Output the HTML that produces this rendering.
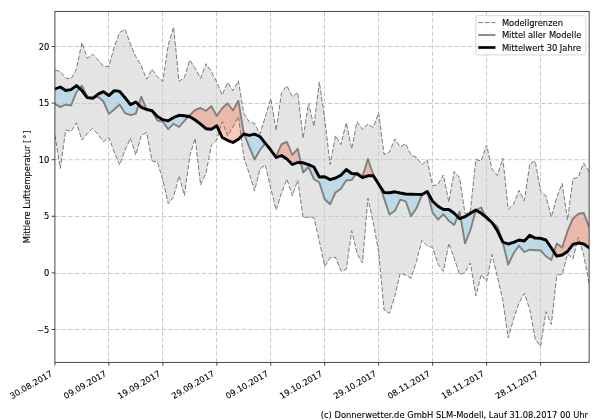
<!DOCTYPE html>
<html><head><meta charset="utf-8"><title>Temperatur</title>
<style>html,body{margin:0;padding:0;background:#fff;}svg{display:block;will-change:transform;}text{font-family:"DejaVu Sans","Liberation Sans",sans-serif;fill:#000;stroke:#000;stroke-width:0.1px;}</style></head><body>
<svg width="600" height="420" viewBox="0 0 600 420">
<rect x="0" y="0" width="600" height="420" fill="#fff"/>
<defs>
<clipPath id="plot"><rect x="54.9" y="11.4" width="534.23" height="351.0"/></clipPath>
<clipPath id="above"><polygon points="54.90,89.00 60.30,87.00 65.69,90.50 71.09,89.60 76.49,85.60 81.88,90.50 87.28,97.60 92.67,98.30 98.07,94.10 103.47,91.60 108.86,95.60 114.26,90.60 119.66,91.40 125.05,97.70 130.45,104.60 135.84,102.00 141.24,107.30 146.64,109.50 152.03,110.70 157.43,116.50 162.83,119.70 168.22,120.80 173.62,117.50 179.01,115.30 184.41,115.80 189.81,116.70 195.20,120.00 200.60,124.20 206.00,128.70 211.39,129.20 216.79,125.80 222.19,137.50 227.58,140.30 232.98,142.50 238.37,139.20 243.77,134.00 249.17,135.30 254.56,134.20 259.96,136.50 265.36,143.30 270.75,150.00 276.15,157.50 281.54,155.50 286.94,159.00 292.34,164.50 297.73,162.50 303.13,162.80 308.53,164.60 313.92,167.00 319.32,177.00 324.71,176.70 330.11,179.60 335.51,178.00 340.90,175.20 346.30,169.50 351.70,173.50 357.09,174.00 362.49,177.50 367.89,175.80 373.28,175.80 378.68,184.20 384.07,192.50 389.47,192.80 394.87,191.80 400.26,193.00 405.66,194.00 411.06,194.20 416.45,194.40 421.85,194.50 427.24,191.50 432.64,201.30 438.04,206.30 443.43,209.50 448.83,209.50 454.23,213.30 459.62,218.70 465.02,216.70 470.42,213.30 475.81,210.00 481.21,213.30 486.60,217.50 492.00,222.50 497.40,230.80 502.79,242.00 508.19,244.00 513.59,242.30 518.98,240.00 524.38,241.00 529.77,235.20 535.17,238.10 540.57,238.30 545.96,240.00 551.36,248.00 556.76,256.20 562.15,255.00 567.55,251.50 572.94,244.30 578.34,243.00 583.74,244.00 589.13,247.70 589.13,0 54.9,0"/></clipPath>
<clipPath id="below"><polygon points="54.90,89.00 60.30,87.00 65.69,90.50 71.09,89.60 76.49,85.60 81.88,90.50 87.28,97.60 92.67,98.30 98.07,94.10 103.47,91.60 108.86,95.60 114.26,90.60 119.66,91.40 125.05,97.70 130.45,104.60 135.84,102.00 141.24,107.30 146.64,109.50 152.03,110.70 157.43,116.50 162.83,119.70 168.22,120.80 173.62,117.50 179.01,115.30 184.41,115.80 189.81,116.70 195.20,120.00 200.60,124.20 206.00,128.70 211.39,129.20 216.79,125.80 222.19,137.50 227.58,140.30 232.98,142.50 238.37,139.20 243.77,134.00 249.17,135.30 254.56,134.20 259.96,136.50 265.36,143.30 270.75,150.00 276.15,157.50 281.54,155.50 286.94,159.00 292.34,164.50 297.73,162.50 303.13,162.80 308.53,164.60 313.92,167.00 319.32,177.00 324.71,176.70 330.11,179.60 335.51,178.00 340.90,175.20 346.30,169.50 351.70,173.50 357.09,174.00 362.49,177.50 367.89,175.80 373.28,175.80 378.68,184.20 384.07,192.50 389.47,192.80 394.87,191.80 400.26,193.00 405.66,194.00 411.06,194.20 416.45,194.40 421.85,194.50 427.24,191.50 432.64,201.30 438.04,206.30 443.43,209.50 448.83,209.50 454.23,213.30 459.62,218.70 465.02,216.70 470.42,213.30 475.81,210.00 481.21,213.30 486.60,217.50 492.00,222.50 497.40,230.80 502.79,242.00 508.19,244.00 513.59,242.30 518.98,240.00 524.38,241.00 529.77,235.20 535.17,238.10 540.57,238.30 545.96,240.00 551.36,248.00 556.76,256.20 562.15,255.00 567.55,251.50 572.94,244.30 578.34,243.00 583.74,244.00 589.13,247.70 589.13,420 54.9,420"/></clipPath>
</defs>
<g clip-path="url(#plot)">
<polygon points="54.90,70.00 60.30,71.70 65.69,78.00 71.09,78.80 76.49,69.00 81.88,42.50 87.28,58.30 92.67,54.20 98.07,60.00 103.47,66.30 108.86,66.70 114.26,46.70 119.66,32.50 125.05,29.20 130.45,44.20 135.84,56.70 141.24,65.80 146.64,79.20 152.03,69.20 157.43,76.70 162.83,81.30 168.22,45.00 173.62,27.00 179.01,81.30 184.41,77.50 189.81,60.00 195.20,68.30 200.60,78.30 206.00,63.70 211.39,71.70 216.79,82.00 222.19,95.00 227.58,82.50 232.98,90.80 238.37,80.80 243.77,113.30 249.17,121.70 254.56,123.50 259.96,134.00 265.36,116.70 270.75,98.50 276.15,130.50 281.54,92.50 286.94,85.80 292.34,96.70 297.73,92.50 303.13,138.30 308.53,103.00 313.92,126.50 319.32,81.80 324.71,119.00 330.11,164.50 335.51,135.60 340.90,144.50 346.30,122.50 351.70,149.00 357.09,121.70 362.49,129.50 367.89,124.00 373.28,127.50 378.68,112.80 384.07,154.50 389.47,152.00 394.87,139.00 400.26,147.00 405.66,143.70 411.06,155.00 416.45,157.20 421.85,164.70 427.24,160.00 432.64,185.80 438.04,184.20 443.43,175.00 448.83,202.00 454.23,171.50 459.62,177.80 465.02,214.00 470.42,211.00 475.81,159.50 481.21,161.00 486.60,145.00 492.00,169.20 497.40,175.50 502.79,158.00 508.19,209.20 513.59,204.20 518.98,190.30 524.38,200.80 529.77,164.00 535.17,161.00 540.57,191.00 545.96,196.00 551.36,217.00 556.76,197.00 562.15,183.50 567.55,220.00 572.94,179.00 578.34,177.00 583.74,163.00 589.13,171.80 589.13,283.30 583.74,255.50 578.34,237.00 572.94,259.00 567.55,254.00 562.15,274.50 556.76,275.00 551.36,324.50 545.96,311.70 540.57,346.30 535.17,339.20 529.77,309.50 524.38,293.30 518.98,303.00 513.59,319.00 508.19,338.00 502.79,300.00 497.40,276.70 492.00,254.50 486.60,281.70 481.21,274.50 475.81,295.80 470.42,263.00 465.02,272.50 459.62,274.70 454.23,258.30 448.83,243.30 443.43,271.30 438.04,264.20 432.64,247.50 427.24,245.80 421.85,240.30 416.45,261.50 411.06,278.20 405.66,275.20 400.26,273.20 394.87,296.00 389.47,313.30 384.07,310.00 378.68,252.00 373.28,222.50 367.89,198.30 362.49,263.00 357.09,253.50 351.70,230.80 346.30,269.20 340.90,271.00 335.51,257.30 330.11,257.80 324.71,266.30 319.32,241.00 313.92,217.50 308.53,217.20 303.13,217.50 297.73,180.20 292.34,195.80 286.94,179.20 281.54,193.00 276.15,210.00 270.75,188.30 265.36,165.00 259.96,169.00 254.56,190.80 249.17,173.50 243.77,157.00 238.37,116.50 232.98,126.70 227.58,135.80 222.19,121.70 216.79,140.00 211.39,145.00 206.00,173.00 200.60,185.00 195.20,138.30 189.81,155.50 184.41,195.50 179.01,176.00 173.62,197.00 168.22,203.50 162.83,180.00 157.43,162.00 152.03,161.00 146.64,132.50 141.24,135.50 135.84,155.00 130.45,138.30 125.05,150.00 119.66,165.00 114.26,152.00 108.86,137.50 103.47,141.70 98.07,134.50 92.67,128.50 87.28,133.50 81.88,140.00 76.49,122.80 71.09,131.50 65.69,130.00 60.30,168.50 54.90,135.00" fill="#e4e4e4"/>
<g clip-path="url(#above)"><polygon points="54.90,103.70 60.30,107.10 65.69,104.50 71.09,105.50 76.49,92.00 81.88,85.70 87.28,97.00 92.67,98.20 98.07,96.80 103.47,101.50 108.86,113.80 114.26,109.50 119.66,104.50 125.05,113.20 130.45,115.20 135.84,113.60 141.24,96.70 146.64,109.50 152.03,111.00 157.43,120.60 162.83,121.70 168.22,129.20 173.62,123.70 179.01,127.00 184.41,120.80 189.81,115.00 195.20,110.00 200.60,108.00 206.00,110.80 211.39,106.30 216.79,116.00 222.19,108.30 227.58,103.30 232.98,110.50 238.37,100.80 243.77,133.00 249.17,146.70 254.56,159.50 259.96,150.00 265.36,143.00 270.75,149.50 276.15,156.50 281.54,144.20 286.94,142.00 292.34,155.00 297.73,148.70 303.13,172.50 308.53,167.00 313.92,179.00 319.32,182.50 324.71,199.20 330.11,204.20 335.51,192.50 340.90,188.70 346.30,180.30 351.70,180.00 357.09,172.50 362.49,176.50 367.89,159.00 373.28,174.50 378.68,183.30 384.07,198.30 389.47,214.50 394.87,210.80 400.26,199.70 405.66,201.30 411.06,216.30 416.45,208.30 421.85,195.30 427.24,192.00 432.64,212.50 438.04,219.70 443.43,214.20 448.83,220.80 454.23,225.00 459.62,211.70 465.02,243.30 470.42,230.00 475.81,210.00 481.21,207.50 486.60,219.20 492.00,222.50 497.40,226.50 502.79,242.00 508.19,264.70 513.59,253.30 518.98,245.80 524.38,252.00 529.77,249.70 535.17,250.30 540.57,250.30 545.96,256.30 551.36,260.00 556.76,243.50 562.15,247.50 567.55,231.00 572.94,218.50 578.34,213.70 583.74,213.00 589.13,227.00 589.13,247.70 583.74,244.00 578.34,243.00 572.94,244.30 567.55,251.50 562.15,255.00 556.76,256.20 551.36,248.00 545.96,240.00 540.57,238.30 535.17,238.10 529.77,235.20 524.38,241.00 518.98,240.00 513.59,242.30 508.19,244.00 502.79,242.00 497.40,230.80 492.00,222.50 486.60,217.50 481.21,213.30 475.81,210.00 470.42,213.30 465.02,216.70 459.62,218.70 454.23,213.30 448.83,209.50 443.43,209.50 438.04,206.30 432.64,201.30 427.24,191.50 421.85,194.50 416.45,194.40 411.06,194.20 405.66,194.00 400.26,193.00 394.87,191.80 389.47,192.80 384.07,192.50 378.68,184.20 373.28,175.80 367.89,175.80 362.49,177.50 357.09,174.00 351.70,173.50 346.30,169.50 340.90,175.20 335.51,178.00 330.11,179.60 324.71,176.70 319.32,177.00 313.92,167.00 308.53,164.60 303.13,162.80 297.73,162.50 292.34,164.50 286.94,159.00 281.54,155.50 276.15,157.50 270.75,150.00 265.36,143.30 259.96,136.50 254.56,134.20 249.17,135.30 243.77,134.00 238.37,139.20 232.98,142.50 227.58,140.30 222.19,137.50 216.79,125.80 211.39,129.20 206.00,128.70 200.60,124.20 195.20,120.00 189.81,116.70 184.41,115.80 179.01,115.30 173.62,117.50 168.22,120.80 162.83,119.70 157.43,116.50 152.03,110.70 146.64,109.50 141.24,107.30 135.84,102.00 130.45,104.60 125.05,97.70 119.66,91.40 114.26,90.60 108.86,95.60 103.47,91.60 98.07,94.10 92.67,98.30 87.28,97.60 81.88,90.50 76.49,85.60 71.09,89.60 65.69,90.50 60.30,87.00 54.90,89.00" fill="#f57d5f" fill-opacity="0.42"/></g>
<g clip-path="url(#below)"><polygon points="54.90,103.70 60.30,107.10 65.69,104.50 71.09,105.50 76.49,92.00 81.88,85.70 87.28,97.00 92.67,98.20 98.07,96.80 103.47,101.50 108.86,113.80 114.26,109.50 119.66,104.50 125.05,113.20 130.45,115.20 135.84,113.60 141.24,96.70 146.64,109.50 152.03,111.00 157.43,120.60 162.83,121.70 168.22,129.20 173.62,123.70 179.01,127.00 184.41,120.80 189.81,115.00 195.20,110.00 200.60,108.00 206.00,110.80 211.39,106.30 216.79,116.00 222.19,108.30 227.58,103.30 232.98,110.50 238.37,100.80 243.77,133.00 249.17,146.70 254.56,159.50 259.96,150.00 265.36,143.00 270.75,149.50 276.15,156.50 281.54,144.20 286.94,142.00 292.34,155.00 297.73,148.70 303.13,172.50 308.53,167.00 313.92,179.00 319.32,182.50 324.71,199.20 330.11,204.20 335.51,192.50 340.90,188.70 346.30,180.30 351.70,180.00 357.09,172.50 362.49,176.50 367.89,159.00 373.28,174.50 378.68,183.30 384.07,198.30 389.47,214.50 394.87,210.80 400.26,199.70 405.66,201.30 411.06,216.30 416.45,208.30 421.85,195.30 427.24,192.00 432.64,212.50 438.04,219.70 443.43,214.20 448.83,220.80 454.23,225.00 459.62,211.70 465.02,243.30 470.42,230.00 475.81,210.00 481.21,207.50 486.60,219.20 492.00,222.50 497.40,226.50 502.79,242.00 508.19,264.70 513.59,253.30 518.98,245.80 524.38,252.00 529.77,249.70 535.17,250.30 540.57,250.30 545.96,256.30 551.36,260.00 556.76,243.50 562.15,247.50 567.55,231.00 572.94,218.50 578.34,213.70 583.74,213.00 589.13,227.00 589.13,247.70 583.74,244.00 578.34,243.00 572.94,244.30 567.55,251.50 562.15,255.00 556.76,256.20 551.36,248.00 545.96,240.00 540.57,238.30 535.17,238.10 529.77,235.20 524.38,241.00 518.98,240.00 513.59,242.30 508.19,244.00 502.79,242.00 497.40,230.80 492.00,222.50 486.60,217.50 481.21,213.30 475.81,210.00 470.42,213.30 465.02,216.70 459.62,218.70 454.23,213.30 448.83,209.50 443.43,209.50 438.04,206.30 432.64,201.30 427.24,191.50 421.85,194.50 416.45,194.40 411.06,194.20 405.66,194.00 400.26,193.00 394.87,191.80 389.47,192.80 384.07,192.50 378.68,184.20 373.28,175.80 367.89,175.80 362.49,177.50 357.09,174.00 351.70,173.50 346.30,169.50 340.90,175.20 335.51,178.00 330.11,179.60 324.71,176.70 319.32,177.00 313.92,167.00 308.53,164.60 303.13,162.80 297.73,162.50 292.34,164.50 286.94,159.00 281.54,155.50 276.15,157.50 270.75,150.00 265.36,143.30 259.96,136.50 254.56,134.20 249.17,135.30 243.77,134.00 238.37,139.20 232.98,142.50 227.58,140.30 222.19,137.50 216.79,125.80 211.39,129.20 206.00,128.70 200.60,124.20 195.20,120.00 189.81,116.70 184.41,115.80 179.01,115.30 173.62,117.50 168.22,120.80 162.83,119.70 157.43,116.50 152.03,110.70 146.64,109.50 141.24,107.30 135.84,102.00 130.45,104.60 125.05,97.70 119.66,91.40 114.26,90.60 108.86,95.60 103.47,91.60 98.07,94.10 92.67,98.30 87.28,97.60 81.88,90.50 76.49,85.60 71.09,89.60 65.69,90.50 60.30,87.00 54.90,89.00" fill="#87ceeb" fill-opacity="0.42"/></g>
<path d="M108.50 362.4V11.4M162.50 362.4V11.4M216.50 362.4V11.4M270.50 362.4V11.4M324.50 362.4V11.4M378.50 362.4V11.4M432.50 362.4V11.4M486.50 362.4V11.4M540.50 362.4V11.4M54.9 329.50H589.13M54.9 273.50H589.13M54.9 216.50H589.13M54.9 159.70H589.13M54.9 103.50H589.13M54.9 46.50H589.13" stroke="#cacaca" stroke-width="1.0" stroke-dasharray="4.5 2.16" fill="none"/>
<polyline points="54.90,70.00 60.30,71.70 65.69,78.00 71.09,78.80 76.49,69.00 81.88,42.50 87.28,58.30 92.67,54.20 98.07,60.00 103.47,66.30 108.86,66.70 114.26,46.70 119.66,32.50 125.05,29.20 130.45,44.20 135.84,56.70 141.24,65.80 146.64,79.20 152.03,69.20 157.43,76.70 162.83,81.30 168.22,45.00 173.62,27.00 179.01,81.30 184.41,77.50 189.81,60.00 195.20,68.30 200.60,78.30 206.00,63.70 211.39,71.70 216.79,82.00 222.19,95.00 227.58,82.50 232.98,90.80 238.37,80.80 243.77,113.30 249.17,121.70 254.56,123.50 259.96,134.00 265.36,116.70 270.75,98.50 276.15,130.50 281.54,92.50 286.94,85.80 292.34,96.70 297.73,92.50 303.13,138.30 308.53,103.00 313.92,126.50 319.32,81.80 324.71,119.00 330.11,164.50 335.51,135.60 340.90,144.50 346.30,122.50 351.70,149.00 357.09,121.70 362.49,129.50 367.89,124.00 373.28,127.50 378.68,112.80 384.07,154.50 389.47,152.00 394.87,139.00 400.26,147.00 405.66,143.70 411.06,155.00 416.45,157.20 421.85,164.70 427.24,160.00 432.64,185.80 438.04,184.20 443.43,175.00 448.83,202.00 454.23,171.50 459.62,177.80 465.02,214.00 470.42,211.00 475.81,159.50 481.21,161.00 486.60,145.00 492.00,169.20 497.40,175.50 502.79,158.00 508.19,209.20 513.59,204.20 518.98,190.30 524.38,200.80 529.77,164.00 535.17,161.00 540.57,191.00 545.96,196.00 551.36,217.00 556.76,197.00 562.15,183.50 567.55,220.00 572.94,179.00 578.34,177.00 583.74,163.00 589.13,171.80" fill="none" stroke="#7a7a7a" stroke-width="1.0" stroke-dasharray="4.7 1.9"/>
<polyline points="54.90,135.00 60.30,168.50 65.69,130.00 71.09,131.50 76.49,122.80 81.88,140.00 87.28,133.50 92.67,128.50 98.07,134.50 103.47,141.70 108.86,137.50 114.26,152.00 119.66,165.00 125.05,150.00 130.45,138.30 135.84,155.00 141.24,135.50 146.64,132.50 152.03,161.00 157.43,162.00 162.83,180.00 168.22,203.50 173.62,197.00 179.01,176.00 184.41,195.50 189.81,155.50 195.20,138.30 200.60,185.00 206.00,173.00 211.39,145.00 216.79,140.00 222.19,121.70 227.58,135.80 232.98,126.70 238.37,116.50 243.77,157.00 249.17,173.50 254.56,190.80 259.96,169.00 265.36,165.00 270.75,188.30 276.15,210.00 281.54,193.00 286.94,179.20 292.34,195.80 297.73,180.20 303.13,217.50 308.53,217.20 313.92,217.50 319.32,241.00 324.71,266.30 330.11,257.80 335.51,257.30 340.90,271.00 346.30,269.20 351.70,230.80 357.09,253.50 362.49,263.00 367.89,198.30 373.28,222.50 378.68,252.00 384.07,310.00 389.47,313.30 394.87,296.00 400.26,273.20 405.66,275.20 411.06,278.20 416.45,261.50 421.85,240.30 427.24,245.80 432.64,247.50 438.04,264.20 443.43,271.30 448.83,243.30 454.23,258.30 459.62,274.70 465.02,272.50 470.42,263.00 475.81,295.80 481.21,274.50 486.60,281.70 492.00,254.50 497.40,276.70 502.79,300.00 508.19,338.00 513.59,319.00 518.98,303.00 524.38,293.30 529.77,309.50 535.17,339.20 540.57,346.30 545.96,311.70 551.36,324.50 556.76,275.00 562.15,274.50 567.55,254.00 572.94,259.00 578.34,237.00 583.74,255.50 589.13,283.30" fill="none" stroke="#7a7a7a" stroke-width="1.0" stroke-dasharray="4.7 1.9"/>
<polyline points="54.90,103.70 60.30,107.10 65.69,104.50 71.09,105.50 76.49,92.00 81.88,85.70 87.28,97.00 92.67,98.20 98.07,96.80 103.47,101.50 108.86,113.80 114.26,109.50 119.66,104.50 125.05,113.20 130.45,115.20 135.84,113.60 141.24,96.70 146.64,109.50 152.03,111.00 157.43,120.60 162.83,121.70 168.22,129.20 173.62,123.70 179.01,127.00 184.41,120.80 189.81,115.00 195.20,110.00 200.60,108.00 206.00,110.80 211.39,106.30 216.79,116.00 222.19,108.30 227.58,103.30 232.98,110.50 238.37,100.80 243.77,133.00 249.17,146.70 254.56,159.50 259.96,150.00 265.36,143.00 270.75,149.50 276.15,156.50 281.54,144.20 286.94,142.00 292.34,155.00 297.73,148.70 303.13,172.50 308.53,167.00 313.92,179.00 319.32,182.50 324.71,199.20 330.11,204.20 335.51,192.50 340.90,188.70 346.30,180.30 351.70,180.00 357.09,172.50 362.49,176.50 367.89,159.00 373.28,174.50 378.68,183.30 384.07,198.30 389.47,214.50 394.87,210.80 400.26,199.70 405.66,201.30 411.06,216.30 416.45,208.30 421.85,195.30 427.24,192.00 432.64,212.50 438.04,219.70 443.43,214.20 448.83,220.80 454.23,225.00 459.62,211.70 465.02,243.30 470.42,230.00 475.81,210.00 481.21,207.50 486.60,219.20 492.00,222.50 497.40,226.50 502.79,242.00 508.19,264.70 513.59,253.30 518.98,245.80 524.38,252.00 529.77,249.70 535.17,250.30 540.57,250.30 545.96,256.30 551.36,260.00 556.76,243.50 562.15,247.50 567.55,231.00 572.94,218.50 578.34,213.70 583.74,213.00 589.13,227.00" fill="none" stroke="#808080" stroke-width="1.9" stroke-linejoin="round" stroke-linecap="square"/>
<polyline points="54.90,89.00 60.30,87.00 65.69,90.50 71.09,89.60 76.49,85.60 81.88,90.50 87.28,97.60 92.67,98.30 98.07,94.10 103.47,91.60 108.86,95.60 114.26,90.60 119.66,91.40 125.05,97.70 130.45,104.60 135.84,102.00 141.24,107.30 146.64,109.50 152.03,110.70 157.43,116.50 162.83,119.70 168.22,120.80 173.62,117.50 179.01,115.30 184.41,115.80 189.81,116.70 195.20,120.00 200.60,124.20 206.00,128.70 211.39,129.20 216.79,125.80 222.19,137.50 227.58,140.30 232.98,142.50 238.37,139.20 243.77,134.00 249.17,135.30 254.56,134.20 259.96,136.50 265.36,143.30 270.75,150.00 276.15,157.50 281.54,155.50 286.94,159.00 292.34,164.50 297.73,162.50 303.13,162.80 308.53,164.60 313.92,167.00 319.32,177.00 324.71,176.70 330.11,179.60 335.51,178.00 340.90,175.20 346.30,169.50 351.70,173.50 357.09,174.00 362.49,177.50 367.89,175.80 373.28,175.80 378.68,184.20 384.07,192.50 389.47,192.80 394.87,191.80 400.26,193.00 405.66,194.00 411.06,194.20 416.45,194.40 421.85,194.50 427.24,191.50 432.64,201.30 438.04,206.30 443.43,209.50 448.83,209.50 454.23,213.30 459.62,218.70 465.02,216.70 470.42,213.30 475.81,210.00 481.21,213.30 486.60,217.50 492.00,222.50 497.40,230.80 502.79,242.00 508.19,244.00 513.59,242.30 518.98,240.00 524.38,241.00 529.77,235.20 535.17,238.10 540.57,238.30 545.96,240.00 551.36,248.00 556.76,256.20 562.15,255.00 567.55,251.50 572.94,244.30 578.34,243.00 583.74,244.00 589.13,247.70" fill="none" stroke="#000000" stroke-width="2.9" stroke-linejoin="round" stroke-linecap="square"/>
</g>
<rect x="54.9" y="11.4" width="534.23" height="351.0" fill="none" stroke="#333" stroke-width="0.9"/>
<path d="M54.90 362.4v3.3M108.86 362.4v3.3M162.83 362.4v3.3M216.79 362.4v3.3M270.75 362.4v3.3M324.71 362.4v3.3M378.68 362.4v3.3M432.64 362.4v3.3M486.60 362.4v3.3M540.57 362.4v3.3M54.9 329.50h-3.3M54.9 272.90h-3.3M54.9 216.30h-3.3M54.9 159.70h-3.3M54.9 103.10h-3.3M54.9 46.50h-3.3" stroke="#333" stroke-width="0.9" fill="none"/>
<text x="49.3" y="332.60" font-size="8.33" text-anchor="end">−5</text>
<text x="49.3" y="276.00" font-size="8.33" text-anchor="end">0</text>
<text x="49.3" y="219.40" font-size="8.33" text-anchor="end">5</text>
<text x="49.3" y="162.80" font-size="8.33" text-anchor="end">10</text>
<text x="49.3" y="106.20" font-size="8.33" text-anchor="end">15</text>
<text x="49.3" y="49.60" font-size="8.33" text-anchor="end">20</text>
<text x="0" y="0" font-size="8.33" text-anchor="end" transform="translate(53.20,375.4) rotate(-30)">30.08.2017</text>
<text x="0" y="0" font-size="8.33" text-anchor="end" transform="translate(107.16,375.4) rotate(-30)">09.09.2017</text>
<text x="0" y="0" font-size="8.33" text-anchor="end" transform="translate(161.13,375.4) rotate(-30)">19.09.2017</text>
<text x="0" y="0" font-size="8.33" text-anchor="end" transform="translate(215.09,375.4) rotate(-30)">29.09.2017</text>
<text x="0" y="0" font-size="8.33" text-anchor="end" transform="translate(269.05,375.4) rotate(-30)">09.10.2017</text>
<text x="0" y="0" font-size="8.33" text-anchor="end" transform="translate(323.01,375.4) rotate(-30)">19.10.2017</text>
<text x="0" y="0" font-size="8.33" text-anchor="end" transform="translate(376.98,375.4) rotate(-30)">29.10.2017</text>
<text x="0" y="0" font-size="8.33" text-anchor="end" transform="translate(430.94,375.4) rotate(-30)">08.11.2017</text>
<text x="0" y="0" font-size="8.33" text-anchor="end" transform="translate(484.90,375.4) rotate(-30)">18.11.2017</text>
<text x="0" y="0" font-size="8.33" text-anchor="end" transform="translate(538.87,375.4) rotate(-30)">28.11.2017</text>
<text x="0" y="0" font-size="8.33" text-anchor="middle" transform="translate(29.6,186.9) rotate(-90)">Mittlere Lufttemperatur [ ° ]</text>
<rect x="475.8" y="15.7" width="110" height="39.2" rx="1.7" fill="#fff" fill-opacity="0.8" stroke="#cccccc" stroke-width="0.8"/>
<path d="M478.2 22.6H495.4" stroke="#7a7a7a" stroke-width="1.0" stroke-dasharray="4.7 1.9"/>
<path d="M478.2 35.0H495.4" stroke="#808080" stroke-width="1.8"/>
<path d="M478.2 47.5H495.4" stroke="#000000" stroke-width="2.7"/>
<text x="501.9" y="25.8" font-size="8.33">Modellgrenzen</text>
<text x="501.9" y="38.2" font-size="8.33">Mittel aller Modelle</text>
<text x="501.9" y="50.6" font-size="8.33">Mittelwert 30 Jahre</text>
<text x="588.0" y="418.0" font-size="8.35" text-anchor="end">(c) Donnerwetter.de GmbH SLM-Modell, Lauf 31.08.2017 00 Uhr</text>
</svg></body></html>
